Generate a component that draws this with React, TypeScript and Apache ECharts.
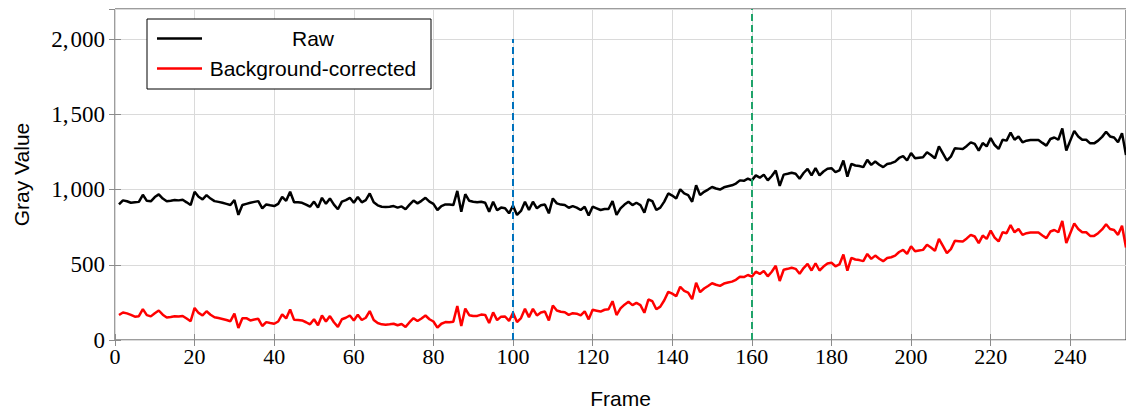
import { useEffect, useRef } from "react";
import * as echarts from "echarts";

// Frame numbers run 1..254 (one reading per frame)
const rawValues: number[] = [
  901, 928, 922, 912, 915, 918, 965, 925, 922, 950,
  968, 940, 922, 925, 930, 928, 932, 915, 897, 985,
  952, 935, 963, 940, 923, 918, 912, 905, 897, 930,
  832, 897, 905, 912, 918, 923, 875, 901, 895, 890,
  905, 952, 925, 985, 916, 915, 912, 900, 886, 920,
  880, 945, 905, 941, 900, 869, 920, 930, 945, 912,
  950, 915, 930, 974, 915, 895, 886, 884, 886, 890,
  880, 888, 869, 900, 927, 908, 925, 945, 920, 905,
  864, 890, 901, 900, 897, 991, 853, 969, 925, 919,
  915, 919, 912, 853, 919, 862, 880, 876, 842, 893,
  831, 858, 919, 864, 919, 875, 895, 901, 842, 941,
  908, 900, 897, 879, 890, 880, 864, 886, 827, 886,
  875, 864, 871, 871, 923, 831, 875, 900, 919, 897,
  912, 897, 846, 934, 923, 864, 880, 920, 974, 960,
  941, 1002, 974, 963, 919, 1028, 963, 985, 1000, 1017,
  1007, 1000, 1015, 1022, 1028, 1040, 1061, 1058, 1072, 1061,
  1094, 1079, 1099, 1061, 1090, 1127, 1024, 1099, 1105, 1112,
  1105, 1072, 1110, 1138, 1094, 1142, 1094, 1120, 1138, 1142,
  1116, 1127, 1193, 1086, 1171, 1160, 1156, 1149, 1197, 1164,
  1186, 1165, 1149, 1170, 1175, 1186, 1210, 1222, 1193, 1243,
  1208, 1212, 1215, 1248, 1230, 1208, 1287, 1240, 1193, 1219,
  1274, 1272, 1270, 1290, 1314, 1303, 1259, 1309, 1287, 1342,
  1296, 1270, 1331, 1325, 1379, 1331, 1353, 1314, 1325, 1329,
  1329, 1329, 1310, 1292, 1336, 1346, 1331, 1406, 1259, 1325,
  1390, 1353, 1331, 1331, 1307, 1307, 1325, 1350, 1384, 1353,
  1346, 1314, 1375, 1230,
];

const correctedValues: number[] = [
  166, 183, 177, 167, 155, 158, 205, 165, 157, 178,
  196, 168, 150, 153, 158, 156, 160, 143, 125, 213,
  180, 163, 191, 168, 151, 146, 140, 133, 125, 175,
  80, 145, 145, 130, 136, 141, 93, 119, 113, 108,
  123, 170, 143, 203, 134, 133, 130, 118, 104, 138,
  98, 163, 123, 159, 118, 87, 138, 148, 163, 130,
  168, 133, 148, 192, 133, 113, 104, 102, 104, 108,
  98, 106, 87, 118, 145, 126, 143, 163, 138, 123,
  82, 108, 119, 118, 122, 226, 93, 209, 165, 159,
  160, 169, 167, 113, 184, 132, 155, 156, 127, 181,
  119, 146, 207, 152, 207, 163, 183, 189, 130, 229,
  196, 188, 185, 167, 178, 175, 164, 191, 137, 201,
  195, 189, 201, 204, 258, 166, 210, 235, 254, 232,
  247, 232, 181, 269, 258, 204, 222, 264, 320, 308,
  291, 354, 326, 315, 271, 380, 318, 342, 359, 377,
  367, 360, 375, 382, 388, 400, 421, 418, 432, 421,
  454, 439, 459, 423, 454, 493, 392, 467, 473, 480,
  473, 440, 478, 506, 462, 510, 462, 488, 508, 514,
  490, 502, 568, 461, 546, 535, 531, 524, 572, 539,
  561, 540, 524, 545, 550, 561, 585, 599, 572, 623,
  590, 595, 599, 633, 615, 593, 672, 625, 578, 604,
  659, 657, 655, 675, 699, 688, 644, 694, 672, 727,
  681, 655, 716, 710, 764, 716, 738, 699, 710, 714,
  714, 714, 695, 677, 721, 731, 716, 791, 644, 710,
  775, 738, 716, 716, 692, 692, 710, 735, 769, 738,
  731, 699, 760, 615,
];

const seriesNames = ["Raw", "Background-corrected"];
const seriesColors = ["#000000", "#ff0000"];

const markerFrames = [100, 160];
const markerTops = [2000, 2200];
const markerColors = ["#0072BD", "#1FA36A"];

const xMin = 0;
const xMax = 254;
const xStep = 20;
const yMin = 0;
const yMax = 2200;
const yStep = 500;

const serif = "'Liberation Serif', 'DejaVu Serif', serif";
const sans = "'Liberation Sans', Arial, sans-serif";

function fmtY(v: number): string {
  if (v % yStep !== 0) return "";
  if (v >= 1000) {
    const th = Math.floor(v / 1000);
    const rest = String(v % 1000).padStart(3, "0");
    return `${th},\u200A${rest}`;
  }
  return String(v);
}

function fmtX(v: number): string {
  if (v % xStep !== 0) return "";
  return String(v);
}

export default function App() {
  const ref = useRef<HTMLDivElement>(null);

  useEffect(() => {
    if (!ref.current) return;
    const chart = echarts.init(ref.current, undefined, { renderer: "svg" });

    const toPairs = (vals: number[]) => vals.map((v, i) => [i + 1, v]);

    const tickStyle = { show: true, inside: true, length: 6, lineStyle: { color: "#8c8c8c", width: 1 } };

    const markData = markerFrames.map((f, i) => [
      { coord: [f, yMin], lineStyle: { color: markerColors[i] } },
      { coord: [f, markerTops[i]] },
    ]);

    chart.setOption({
      animation: false,
      backgroundColor: "#ffffff",
      grid: {
        left: 115,
        right: 0,
        top: 9,
        bottom: 71,
        show: true,
        borderColor: "#3a3a3a",
        borderWidth: 1,
        backgroundColor: "transparent",
      },
      legend: {
        left: 147,
        top: 19,
        orient: "vertical",
        padding: [9, 12, 10, 10],
        itemGap: 9,
        itemWidth: 45,
        itemHeight: 2.6,
        icon: "rect",
        borderColor: "#000000",
        borderWidth: 1,
        borderRadius: 0,
        backgroundColor: "#ffffff",
        data: seriesNames,
        formatter: (name: string) => `{t|${name}}`,
        textStyle: {
          rich: {
            t: {
              width: 212,
              align: "center",
              fontFamily: sans,
              fontSize: 21,
              lineHeight: 24,
              color: "#000000",
            },
          },
        },
      },
      xAxis: [
        {
          type: "value",
          min: xMin,
          max: xMax,
          interval: xStep,
          name: "Frame",
          nameLocation: "middle",
          nameGap: 48,
          nameTextStyle: { fontFamily: sans, fontSize: 21, color: "#000000" },
          axisLine: { show: false },
          axisTick: tickStyle,
          axisLabel: {
            formatter: fmtX,
            showMaxLabel: false,
            fontFamily: serif,
            fontSize: 22,
            color: "#000000",
            margin: 5,
          },
          splitLine: { show: true, lineStyle: { color: "#dadada", width: 1 } },
        },
        {
          type: "value",
          position: "top",
          min: xMin,
          max: xMax,
          interval: xStep,
          axisLine: { show: false },
          axisTick: tickStyle,
          axisLabel: { show: false },
          splitLine: { show: false },
        },
      ],
      yAxis: [
        {
          type: "value",
          min: yMin,
          max: yMax,
          interval: yStep,
          name: "Gray Value",
          nameLocation: "middle",
          nameGap: 83,
          nameTextStyle: { fontFamily: sans, fontSize: 21, color: "#000000" },
          axisLine: { show: false },
          axisTick: tickStyle,
          axisLabel: {
            formatter: fmtY,
            showMaxLabel: false,
            fontFamily: serif,
            fontSize: 23,
            color: "#000000",
            margin: 10,
          },
          splitLine: { show: true, lineStyle: { color: "#dadada", width: 1 } },
        },
        {
          type: "value",
          position: "right",
          min: yMin,
          max: yMax,
          interval: yStep,
          axisLine: { show: false },
          axisTick: tickStyle,
          axisLabel: { show: false },
          splitLine: { show: false },
        },
      ],
      series: [
        {
          name: seriesNames[0],
          type: "line",
          data: toPairs(rawValues),
          symbol: "none",
          showSymbol: false,
          color: seriesColors[0],
          lineStyle: { color: seriesColors[0], width: 2.5 },
          z: 3,
          markLine: {
            silent: true,
            symbol: ["none", "none"],
            label: { show: false },
            lineStyle: { type: [7, 4], width: 2 },
            data: markData,
          },
        },
        {
          name: seriesNames[1],
          type: "line",
          data: toPairs(correctedValues),
          symbol: "none",
          showSymbol: false,
          color: seriesColors[1],
          lineStyle: { color: seriesColors[1], width: 2.5 },
          z: 3,
        },
      ],
    });

    return () => chart.dispose();
  }, []);

  return (
    <div
      ref={ref}
      style={{ position: "absolute", left: 0, top: 0, width: 1126, height: 414 }}
    />
  );
}
